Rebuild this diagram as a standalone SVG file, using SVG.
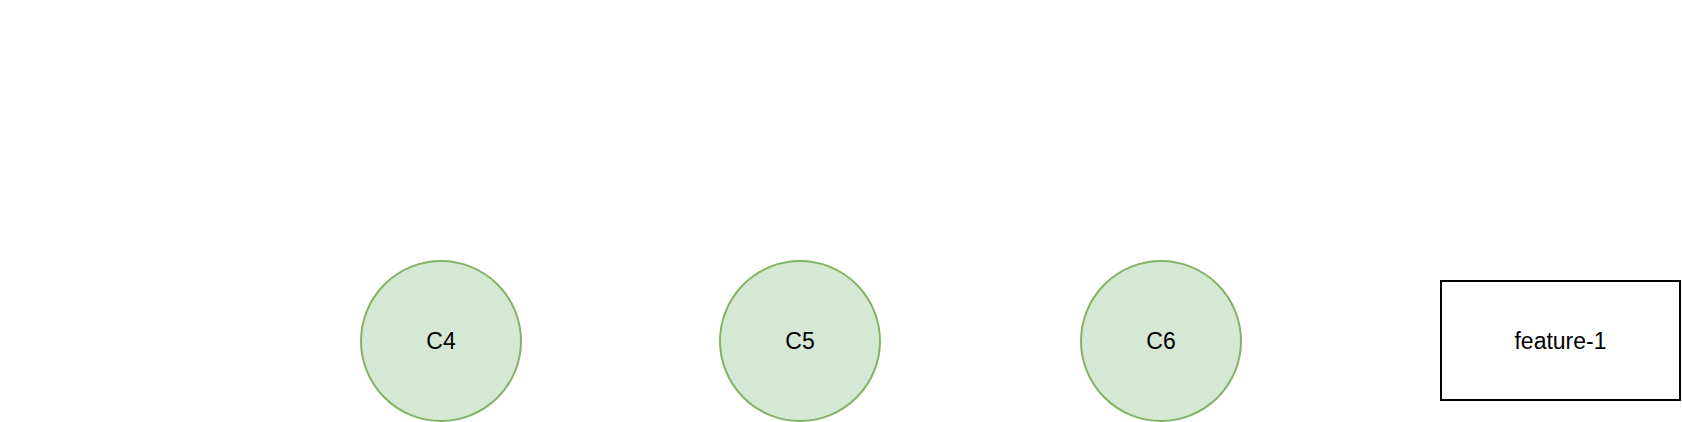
<svg xmlns="http://www.w3.org/2000/svg" width="1682" height="422" viewBox="0 0 1682 422">
<style>
.commit{fill:#d5e8d4;stroke:#82b366;stroke-width:2}
.branch{fill:#ffffff;stroke:#000000;stroke-width:2}
.lbl{font-family:"Liberation Sans",Arial,sans-serif;font-size:23px;fill:#000000;text-anchor:middle}
</style>
<rect x="0" y="0" width="1682" height="422" fill="#ffffff"/>
<g id="connectors"></g>
<g id="c4"><circle class="commit" cx="441" cy="341" r="80"/><text class="lbl" x="441" y="349">C4</text></g>
<g id="c5"><circle class="commit" cx="800" cy="341" r="80"/><text class="lbl" x="800" y="349">C5</text></g>
<g id="c6"><circle class="commit" cx="1161" cy="341" r="80"/><text class="lbl" x="1161" y="349">C6</text></g>
<g id="feature-1"><rect class="branch" x="1441" y="281" width="239" height="119"/><text class="lbl" x="1560.5" y="349">feature-1</text></g>
</svg>
